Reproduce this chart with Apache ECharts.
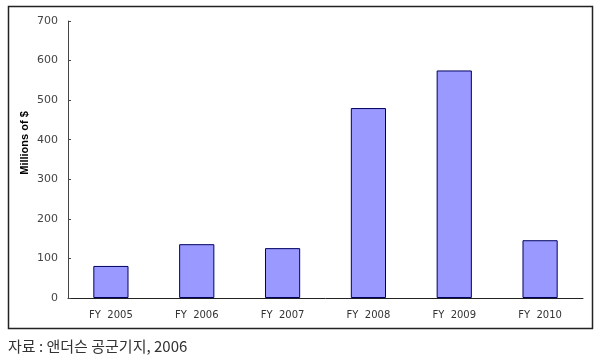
<!DOCTYPE html>
<html><head><meta charset="utf-8">
<script src="https://cdn.jsdelivr.net/npm/echarts@6/dist/echarts.min.js"></script>
<style>html,body{margin:0;padding:0;background:#fff}#c{width:599px;height:361px}</style>
</head><body><div id="c"></div>
<script>
const categories = ['FY  2005','FY  2006','FY  2007','FY  2008','FY  2009','FY  2010'];
const values = [81, 136, 126, 480, 575, 146];
const yTicks = {min: 0, max: 700, interval: 100};
const yName = 'Millions of $';
const caption = '자료 : 앤더슨 공군기지, 2006';

const chart = echarts.init(document.getElementById('c'), null, {renderer: 'canvas'});
chart.setOption({
  animation: false,
  grid: {left: 68, right: 16, top: 21, bottom: 63, containLabel: false},
  xAxis: {
    type: 'category', data: categories,
    axisLine: {lineStyle: {color: '#222', width: 1}},
    axisTick: {inside: true, length: 3, lineStyle: {color: '#444'}},
    axisLabel: {color: '#333', fontSize: 10, fontFamily: 'DejaVu Sans, Arial, sans-serif', margin: 12}
  },
  yAxis: {
    type: 'value', min: yTicks.min, max: yTicks.max, interval: yTicks.interval,
    axisLine: {show: true, lineStyle: {color: '#444', width: 1}},
    axisTick: {show: true, inside: true, length: 3, lineStyle: {color: '#444'}},
    axisLabel: {color: '#444', fontSize: 11, fontFamily: 'DejaVu Sans, Arial, sans-serif', margin: 10},
    splitLine: {show: false}
  },
  series: [{
    type: 'bar', data: values, barWidth: '41%',
    itemStyle: {color: '#9999ff', borderColor: '#000060', borderWidth: 1}
  }],
  graphic: [
    {type: 'rect', shape: {x: 8.5, y: 6.5, width: 584, height: 322}, style: {fill: null, stroke: '#222', lineWidth: 1.5}, silent: true},
    {type: 'text', x: 25, y: 143, rotation: Math.PI / 2,
     style: {text: yName, fontSize: 11, fontWeight: 'bold', fill: '#000', align: 'center', verticalAlign: 'middle', fontFamily: 'Liberation Sans, Arial, sans-serif'}},
    {type: 'text', left: 8, top: 339, style: {text: caption, fontSize: 15, fill: '#333', fontFamily: 'Noto Sans CJK KR, sans-serif'}}
  ]
});
</script></body></html>
